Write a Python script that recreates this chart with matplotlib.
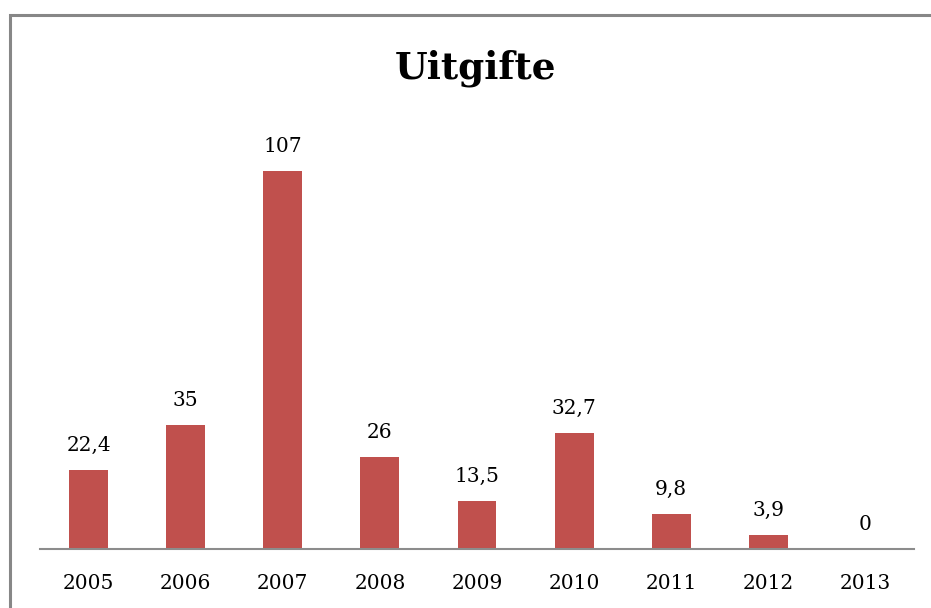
import matplotlib
matplotlib.use("Agg")
import matplotlib.pyplot as plt
from matplotlib.patches import Rectangle

years = ["2005", "2006", "2007", "2008", "2009", "2010", "2011", "2012", "2013"]
values = [22.4, 35, 107, 26, 13.5, 32.7, 9.8, 3.9, 0]
labels = ["22,4", "35", "107", "26", "13,5", "32,7", "9,8", "3,9", "0"]

W, H = 931, 608
fig = plt.figure(figsize=(W / 100, H / 100), dpi=100)
fig.patch.set_facecolor("white")

# outer frame (extends past right/bottom edges)
fig.patches.append(Rectangle((10 / W, -0.1), 1.2, (H - 15) / H + 0.1,
                             transform=fig.transFigure, fill=False,
                             edgecolor="#878787", linewidth=2.2))

ax = fig.add_axes([40 / W, 59 / H, (914 - 40) / W, 424 / H])
x = range(len(years))
ax.bar(x, values, width=0.4, color="#C0504D", zorder=2)
ax.set_xlim(-0.5, len(years) - 0.5)
ax.set_ylim(0, 120)

font = "DejaVu Serif"
for xi, v, lab in zip(x, values, labels):
    ax.annotate(lab, (xi, v), xytext=(0, 11), textcoords="offset points",
                ha="center", va="bottom", fontsize=14.5, family=font)

ax.set_xticks(list(x))
ax.set_xticklabels(years, fontsize=14.5, family=font)
ax.tick_params(axis="x", length=0, pad=18)
ax.set_yticks([])
for s in ["top", "right", "left"]:
    ax.spines[s].set_visible(False)
ax.spines["bottom"].set_color("#8c8c8c")
ax.spines["bottom"].set_linewidth(1.5)

fig.text(476 / W, 1 - 68 / H, "Uitgifte", ha="center", va="center",
         fontsize=27, fontweight="bold", family=font)

fig.savefig("out.png", dpi=100)
